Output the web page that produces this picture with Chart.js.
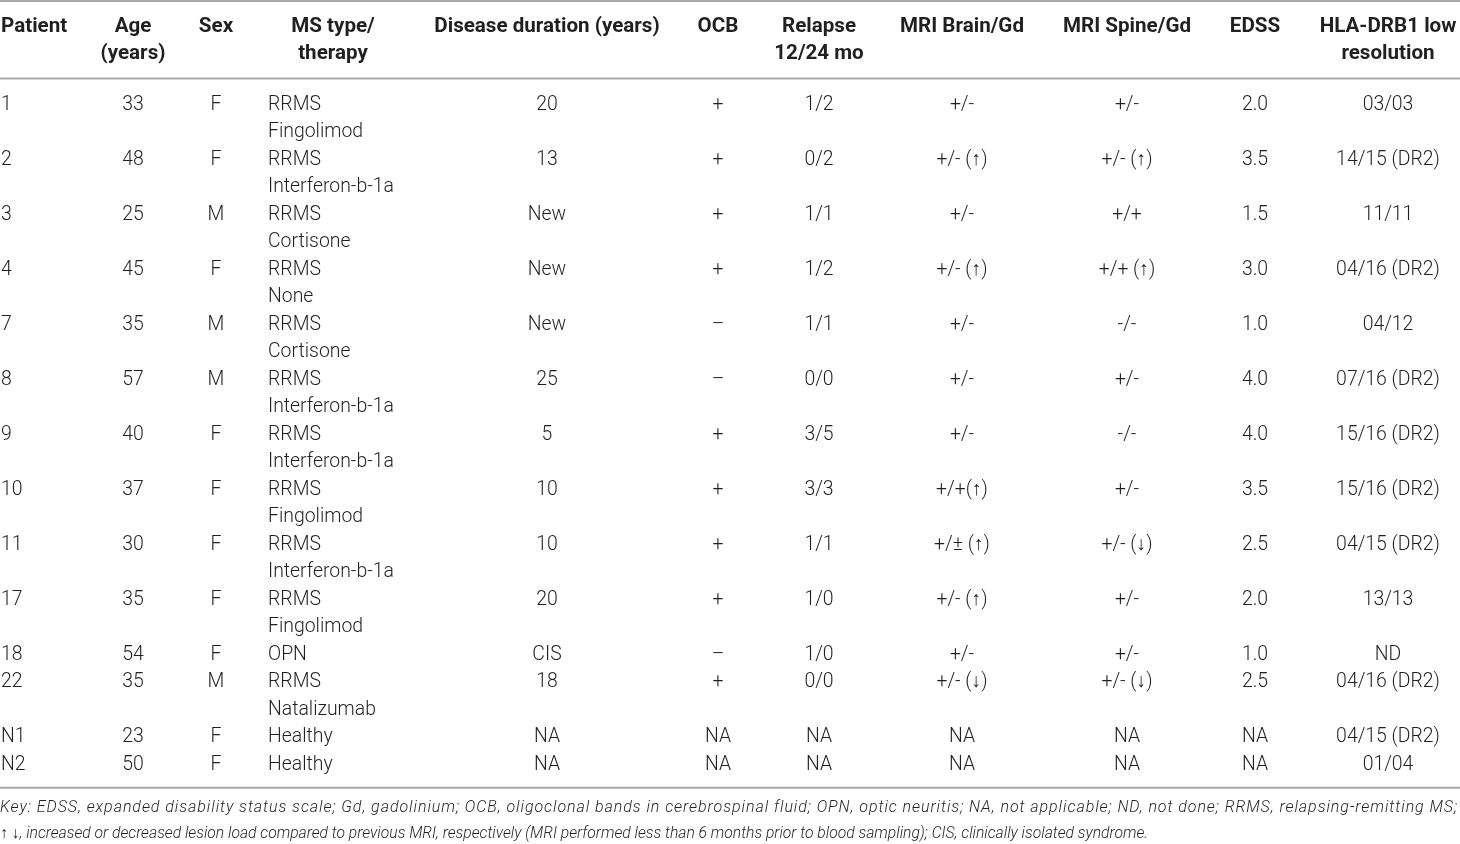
<!DOCTYPE html>
<html>
<head>
<meta charset="utf-8">
<script src="https://cdn.jsdelivr.net/npm/chart.js@4/dist/chart.umd.min.js"></script>
<style>
  html, body { margin: 0; padding: 0; background: #fff; }
  #wrap { width: 1460px; height: 844px; }
</style>
</head>
<body>
<div id="wrap"><canvas id="tabela" width="1460" height="844"></canvas></div>
<script>
// dados da tabela
const patients = ['1', '2', '3', '4', '7', '8', '9', '10', '11', '17', '18', '22', 'N1', 'N2'];
const ages = ['33', '48', '25', '45', '35', '57', '40', '37', '30', '35', '54', '35', '23', '50'];
const sexes = ['F', 'F', 'M', 'F', 'M', 'M', 'F', 'F', 'F', 'F', 'F', 'M', 'F', 'F'];
const msTypes = ['RRMS', 'RRMS', 'RRMS', 'RRMS', 'RRMS', 'RRMS', 'RRMS', 'RRMS', 'RRMS', 'RRMS', 'OPN', 'RRMS', 'Healthy', 'Healthy'];
const therapies = ['Fingolimod', 'Interferon-b-1a', 'Cortisone', 'None', 'Cortisone', 'Interferon-b-1a', 'Interferon-b-1a',
    'Fingolimod', 'Interferon-b-1a', 'Fingolimod', '', 'Natalizumab', '', ''];
const durations = ['20', '13', 'New', 'New', 'New', '25', '5', '10', '10', '20', 'CIS', '18', 'NA', 'NA'];
const ocb = ['+', '+', '+', '+', '\u2013', '\u2013', '+', '+', '+', '+', '\u2013', '+', 'NA', 'NA'];
const relapses = ['1/2', '0/2', '1/1', '1/2', '1/1', '0/0', '3/5', '3/3', '1/1', '1/0', '1/0', '0/0', 'NA', 'NA'];
const mriBrain = ['+/-', '+/- (\u2191)', '+/-', '+/- (\u2191)', '+/-', '+/-', '+/-', '+/+(\u2191)', '+/\u00b1 (\u2191)', '+/- (\u2191)', '+/-', '+/- (\u2193)', 'NA', 'NA'];
const mriSpine = ['+/-', '+/- (\u2191)', '+/+', '+/+ (\u2191)', '-/-', '+/-', '-/-', '+/-', '+/- (\u2193)', '+/-', '+/-', '+/- (\u2193)', 'NA', 'NA'];
const edss = ['2.0', '3.5', '1.5', '3.0', '1.0', '4.0', '4.0', '3.5', '2.5', '2.0', '1.0', '2.5', 'NA', 'NA'];
const hla = ['03/03', '14/15 (DR2)', '11/11', '04/16 (DR2)', '04/12', '07/16 (DR2)', '15/16 (DR2)', '15/16 (DR2)',
    '04/15 (DR2)', '13/13', 'ND', '04/16 (DR2)', '04/15 (DR2)', '01/04'];

const headers = [
    ['Patient'], ['Age', '(years)'], ['Sex'], ['MS type/', 'therapy'], ['Disease duration (years)'], ['OCB'],
    ['Relapse', '12/24 mo'], ['MRI Brain/Gd'], ['MRI Spine/Gd'], ['EDSS'], ['HLA-DRB1 low', 'resolution'],
];
const keyLines = [
    'Key: EDSS, expanded disability status scale; Gd, gadolinium; OCB, oligoclonal bands in cerebrospinal fluid; OPN, optic neuritis; NA, not applicable; ND, not done; RRMS, relapsing-remitting MS;',
    '\u2191 \u2193, increased or decreased lesion load compared to previous MRI, respectively (MRI performed less than 6 months prior to blood sampling); CIS, clinically isolated syndrome.',
];

// layout (posições das colunas em px, linhas em unidades de linha de texto)
const colX = [1, 133, 216, 268, 547, 718, 819, 962, 1127, 1255, 1388];
const colAlign = ['left', 'center', 'center', 'left', 'center', 'center', 'center', 'center', 'center', 'center', 'center'];
const headX = [1, 133, 216, 333, 547, 718, 819, 962, 1127, 1255, 1388];
const cor = '#231f20';
const corLinha = '#a7a9ac';
const fonte = 'Roboto, "Liberation Sans", Arial, sans-serif';

// linha inicial de cada paciente (2 linhas quando há terapia)
const rowStart = [];
let acc = 0;
therapies.forEach((t) => {
    rowStart.push(acc);
    acc += t ? 2 : 1;
});

const colunas = [patients, ages, sexes, msTypes, durations, ocb, relapses, mriBrain, mriSpine, edss, hla];

const datasets = colunas.map((vals, c) => ({
    label: headers[c].join(' '),
    data: vals.map((v, i) => ({ x: colX[c], y: rowStart[i], t: v })),
    align: colAlign[c],
    pointRadius: 0,
}));
datasets.push({
    label: 'therapy',
    data: therapies.map((v, i) => ({ x: colX[3], y: rowStart[i] + 1, t: v })),
    align: 'left',
    pointRadius: 0,
});

// estica uma linha até a largura pedida com espaçamento entre letras
function linhaLargura(ctx, s, x, y, w) {
    ctx.letterSpacing = '0px';
    const nat = ctx.measureText(s).width;
    const extra = Math.max(0, (w - nat) / s.length);
    ctx.letterSpacing = extra.toFixed(3) + 'px';
    ctx.fillText(s, x, y, w);
    ctx.letterSpacing = '0px';
}

const textoPlugin = {
    id: 'textoTabela',
    afterDatasetsDraw(chart) {
        const ctx = chart.ctx;
        const xs = chart.scales.x;
        const ys = chart.scales.y;
        ctx.save();
        ctx.fillStyle = cor;
        ctx.textBaseline = 'middle';

        // regras horizontais
        ctx.strokeStyle = corLinha;
        ctx.lineWidth = 2;
        [-3.745, -0.93, 24.86].forEach((l) => {
            const y = ys.getPixelForValue(l);
            ctx.beginPath();
            ctx.moveTo(xs.getPixelForValue(0), y);
            ctx.lineTo(xs.getPixelForValue(1460), y);
            ctx.stroke();
        });

        // cabeçalho
        ctx.font = 'bold 20.6px ' + fonte;
        headers.forEach((h, c) => {
            ctx.textAlign = c === 0 ? 'left' : 'center';
            h.forEach((s, k) => {
                ctx.fillText(s, xs.getPixelForValue(headX[c]), ys.getPixelForValue(-2.82 + k * 0.98));
            });
        });

        // células
        ctx.font = '300 19.4px ' + fonte;
        chart.data.datasets.forEach((ds, di) => {
            ctx.textAlign = ds.align;
            chart.getDatasetMeta(di).data.forEach((pt, i) => {
                ctx.fillText(ds.data[i].t, pt.x, pt.y + 1);
            });
        });

        // nota de rodapé
        ctx.font = 'italic 300 16px ' + fonte;
        ctx.textAlign = 'left';
        linhaLargura(ctx, keyLines[0], xs.getPixelForValue(0), ys.getPixelForValue(25.6), 1458);
        linhaLargura(ctx, keyLines[1], xs.getPixelForValue(0), ys.getPixelForValue(26.55), 1148);
        ctx.restore();
    },
};

new Chart(document.getElementById('tabela'), {
    type: 'scatter',
    data: { datasets: datasets },
    options: {
        responsive: false,
        animation: false,
        devicePixelRatio: 1,
        layout: { padding: 0 },
        plugins: { legend: { display: false }, tooltip: { enabled: false } },
        scales: {
            x: { type: 'linear', min: 0, max: 1460, display: false },
            y: { type: 'linear', min: -3.782, max: 26.909, reverse: true, display: false },
        },
    },
    plugins: [textoPlugin],
});
</script>
</body>
</html>
